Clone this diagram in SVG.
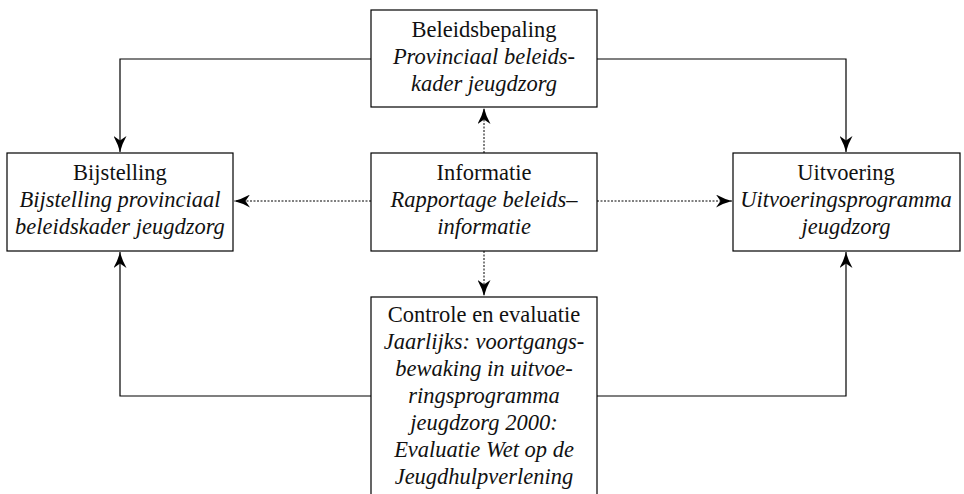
<svg xmlns="http://www.w3.org/2000/svg" width="964" height="494" viewBox="0 0 964 494">
<style>
.box{fill:#fff;stroke:#000;stroke-width:1.2}
.t{font-family:'Liberation Serif','Times New Roman',serif;font-size:22.5px;fill:#111;text-anchor:middle}
.i{font-style:italic}
.c{fill:none;stroke:#000;stroke-width:1.2}
.d{fill:none;stroke:#000;stroke-width:1;stroke-dasharray:2,1.5}
</style>
<defs>
<marker id="ah" viewBox="0 0 16 13" refX="16" refY="6.5" markerWidth="16" markerHeight="13" markerUnits="userSpaceOnUse" orient="auto">
<path d="M16,6.5 Q8,4.5 0,0 L4.5,6.5 L0,13 Q8,8.5 16,6.5 Z" fill="#000"/>
</marker>
</defs>
<g id="connectors">
<path class="c" d="M371,59 H120 V152" marker-end="url(#ah)"/>
<path class="c" d="M597,59 H846 V152" marker-end="url(#ah)"/>
<path class="c" d="M371,396 H120 V252" marker-end="url(#ah)"/>
<path class="c" d="M597,396 H846 V252" marker-end="url(#ah)"/>
<path class="d" d="M484,153 V108" marker-end="url(#ah)"/>
<path class="d" d="M484,251 V296" marker-end="url(#ah)"/>
<path class="d" d="M371,201 H234" marker-end="url(#ah)"/>
<path class="d" d="M597,201 H732" marker-end="url(#ah)"/>
</g>
<g id="beleidsbepaling">
<rect class="box" x="371" y="10" width="226" height="97"/>
<text class="t" x="484" y="37">Beleidsbepaling</text>
<text class="t i" x="484" y="64">Provinciaal beleids-</text>
<text class="t i" x="484" y="91">kader jeugdzorg</text>
</g>
<g id="bijstelling">
<rect class="box" x="7" y="153" width="226" height="98"/>
<text class="t" x="120" y="180">Bijstelling</text>
<text class="t i" x="120" y="207">Bijstelling provinciaal</text>
<text class="t i" x="120" y="234">beleidskader jeugdzorg</text>
</g>
<g id="informatie">
<rect class="box" x="371" y="153" width="226" height="98"/>
<text class="t" x="484" y="180">Informatie</text>
<text class="t i" x="484" y="207">Rapportage beleids–</text>
<text class="t i" x="484" y="234">informatie</text>
</g>
<g id="uitvoering">
<rect class="box" x="733" y="153" width="227" height="98"/>
<text class="t" x="846" y="180">Uitvoering</text>
<text class="t i" x="846" y="207">Uitvoeringsprogramma</text>
<text class="t i" x="846" y="234">jeugdzorg</text>
</g>
<g id="controle">
<rect class="box" x="371" y="297" width="226" height="210"/>
<text class="t" x="484" y="322">Controle en evaluatie</text>
<text class="t i" x="484" y="349">Jaarlijks: voortgangs-</text>
<text class="t i" x="484" y="376">bewaking in uitvoe-</text>
<text class="t i" x="484" y="403">ringsprogramma</text>
<text class="t i" x="484" y="430">jeugdzorg 2000:</text>
<text class="t i" x="484" y="457">Evaluatie Wet op de</text>
<text class="t i" x="484" y="484">Jeugdhulpverlening</text>
</g>
</svg>
